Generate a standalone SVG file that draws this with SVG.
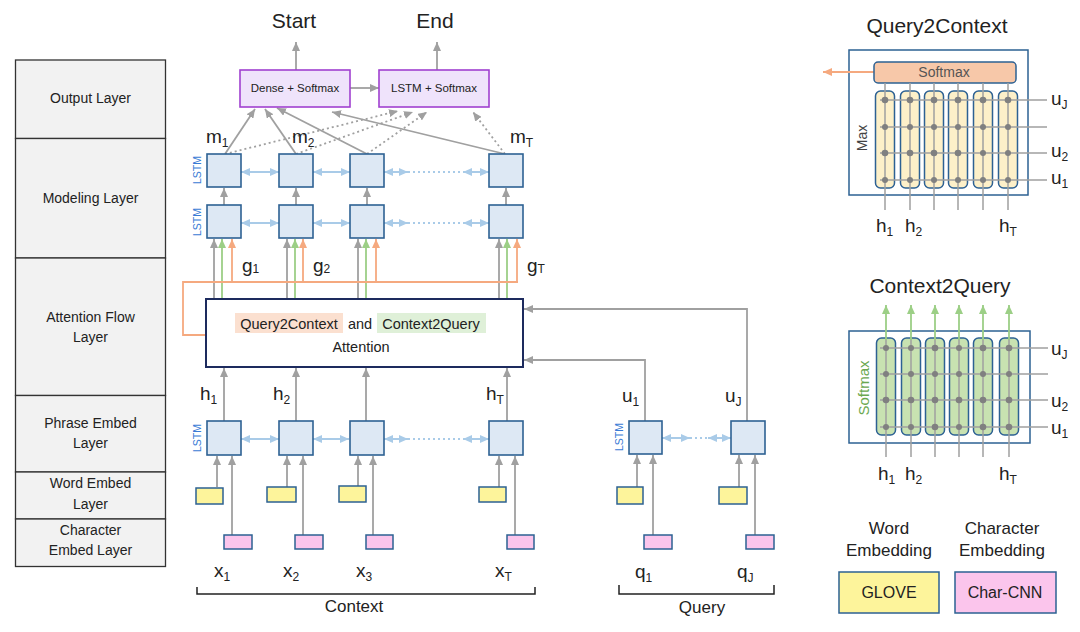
<svg xmlns="http://www.w3.org/2000/svg" width="1080" height="632" viewBox="0 0 1080 632">
<defs>
<style>
text{font-family:"Liberation Sans",Arial,sans-serif;fill:#222}
.layer{fill:#f2f2f2;stroke:#333;stroke-width:1.3}
.lt{font-size:14px;text-anchor:middle}
.lstm{fill:#dde8f4;stroke:#2d6193;stroke-width:1.6}
.vl{font-size:10.5px;fill:#3a7bd5;text-anchor:middle}
.g{stroke:#a0a0a0;stroke-width:1.8;fill:none}
.gd{stroke:#a0a0a0;stroke-width:1.8;fill:none;stroke-dasharray:2 3}
.gr{stroke:#9ccf86;stroke-width:1.8;fill:none}
.or{stroke:#f5a97f;stroke-width:1.8;fill:none}
.bl{stroke:#a9cbe8;stroke-width:2;fill:none}
.bld{stroke:#a9cbe8;stroke-width:2;fill:none;stroke-dasharray:2 3}
.yel{fill:#fdf49b;stroke:#2d6193;stroke-width:1.5}
.pnk{fill:#fbc5ec;stroke:#2d6193;stroke-width:1.5}
.out{fill:#efe3fb;stroke:#a040d0;stroke-width:1.6}
.var{font-size:19px}
.sub{font-size:12px}
.big{font-size:21px;text-anchor:middle}
.mid{font-size:17px;text-anchor:middle}
.grid{stroke:#a0a0a0;stroke-width:1.5;fill:none}
.dot{fill:#808080}
.panel{fill:#fff;stroke:#2d6193;stroke-width:1.5}
.ycol{fill:#fdf0c9;stroke:#2d6193;stroke-width:1.5}
.gcol{fill:#c8e2b1;stroke:#2d6193;stroke-width:1.5}
</style>
<marker id="ag" markerWidth="9" markerHeight="8" refX="9" refY="4" orient="auto" markerUnits="userSpaceOnUse"><path d="M0,0 L9,4 L0,8 z" fill="#a0a0a0"/></marker>
<marker id="agr" markerWidth="9" markerHeight="8" refX="9" refY="4" orient="auto" markerUnits="userSpaceOnUse"><path d="M0,0 L9,4 L0,8 z" fill="#9ccf86"/></marker>
<marker id="aor" markerWidth="9" markerHeight="8" refX="9" refY="4" orient="auto" markerUnits="userSpaceOnUse"><path d="M0,0 L9,4 L0,8 z" fill="#f5a97f"/></marker>
<marker id="abl" markerWidth="9" markerHeight="8" refX="9" refY="4" orient="auto-start-reverse" markerUnits="userSpaceOnUse"><path d="M0,0 L9,4 L0,8 z" fill="#a9cbe8"/></marker>
</defs>
<rect width="1080" height="632" fill="#fff"/>

<g id="layers">
<rect class="layer" x="15.5" y="60" width="150" height="78.5"/>
<rect class="layer" x="15.5" y="138.5" width="150" height="119.5"/>
<rect class="layer" x="15.5" y="258" width="150" height="137.5"/>
<rect class="layer" x="15.5" y="395.5" width="150" height="76.5"/>
<rect class="layer" x="15.5" y="472" width="150" height="47"/>
<rect class="layer" x="15.5" y="519" width="150" height="47.5"/>
<text class="lt" x="90.5" y="103">Output Layer</text>
<text class="lt" x="90.5" y="203">Modeling Layer</text>
<text class="lt" x="90.5" y="322">Attention Flow</text>
<text class="lt" x="90.5" y="342">Layer</text>
<text class="lt" x="90.5" y="428">Phrase Embed</text>
<text class="lt" x="90.5" y="448">Layer</text>
<text class="lt" x="90.5" y="488">Word Embed</text>
<text class="lt" x="90.5" y="509">Layer</text>
<text class="lt" x="90.5" y="535">Character</text>
<text class="lt" x="90.5" y="555">Embed Layer</text>
</g>

<g id="connectors">
<line class="g" x1="296" y1="70" x2="296" y2="42" marker-end="url(#ag)"/>
<line class="g" x1="437" y1="70" x2="437" y2="42" marker-end="url(#ag)"/>
<line class="g" x1="350" y1="88" x2="379" y2="88" marker-end="url(#ag)"/>
<line class="g" x1="225" y1="154" x2="255" y2="109" marker-end="url(#ag)"/>
<line class="g" x1="296" y1="154" x2="265" y2="109" marker-end="url(#ag)"/>
<line class="g" x1="367" y1="154" x2="277" y2="108" marker-end="url(#ag)"/>
<line class="g" x1="505" y1="154" x2="332" y2="112" marker-end="url(#ag)"/>
<line class="gd" x1="225" y1="154" x2="398" y2="111" marker-end="url(#ag)"/>
<line class="gd" x1="296" y1="154" x2="413" y2="112" marker-end="url(#ag)"/>
<line class="gd" x1="367" y1="154" x2="427" y2="112" marker-end="url(#ag)"/>
<line class="gd" x1="505" y1="154" x2="473" y2="112" marker-end="url(#ag)"/>

<line class="bl" x1="241" y1="172" x2="279" y2="172" marker-start="url(#abl)" marker-end="url(#abl)"/>
<line class="bl" x1="313" y1="172" x2="350" y2="172" marker-start="url(#abl)" marker-end="url(#abl)"/>
<line class="bl" x1="384" y1="172" x2="408" y2="172" marker-start="url(#abl)" marker-end="url(#abl)"/>
<line class="bld" x1="408" y1="172" x2="463" y2="172"/>
<line class="bl" x1="463" y1="172" x2="489" y2="172" marker-start="url(#abl)" marker-end="url(#abl)"/>

<line class="g" x1="224" y1="205" x2="224" y2="188" marker-end="url(#ag)"/>
<line class="g" x1="296" y1="205" x2="296" y2="188" marker-end="url(#ag)"/>
<line class="g" x1="367" y1="205" x2="367" y2="188" marker-end="url(#ag)"/>
<line class="g" x1="506" y1="205" x2="506" y2="188" marker-end="url(#ag)"/>

<line class="bl" x1="241" y1="223" x2="279" y2="223" marker-start="url(#abl)" marker-end="url(#abl)"/>
<line class="bl" x1="313" y1="223" x2="350" y2="223" marker-start="url(#abl)" marker-end="url(#abl)"/>
<line class="bl" x1="384" y1="223" x2="408" y2="223" marker-start="url(#abl)" marker-end="url(#abl)"/>
<line class="bld" x1="408" y1="223" x2="463" y2="223"/>
<line class="bl" x1="463" y1="223" x2="489" y2="223" marker-start="url(#abl)" marker-end="url(#abl)"/>

<line class="g" x1="214" y1="299" x2="214" y2="239" marker-end="url(#ag)"/>
<line class="g" x1="287" y1="299" x2="287" y2="239" marker-end="url(#ag)"/>
<line class="g" x1="358" y1="299" x2="358" y2="239" marker-end="url(#ag)"/>
<line class="g" x1="499" y1="299" x2="499" y2="239" marker-end="url(#ag)"/>
<line class="gr" x1="222" y1="299" x2="222" y2="239" marker-end="url(#agr)"/>
<line class="gr" x1="295" y1="299" x2="295" y2="239" marker-end="url(#agr)"/>
<line class="gr" x1="366" y1="299" x2="366" y2="239" marker-end="url(#agr)"/>
<line class="gr" x1="507" y1="299" x2="507" y2="239" marker-end="url(#agr)"/>
<path class="or" d="M206,335 H183 V282 H518"/>
<line class="or" x1="232" y1="282" x2="232" y2="239" marker-end="url(#aor)"/>
<line class="or" x1="303" y1="282" x2="303" y2="239" marker-end="url(#aor)"/>
<line class="or" x1="376" y1="282" x2="376" y2="239" marker-end="url(#aor)"/>
<line class="or" x1="517" y1="282" x2="517" y2="239" marker-end="url(#aor)"/>

<path class="g" d="M747,421 V309 H524" marker-end="url(#ag)"/>
<path class="g" d="M645,421 V360 H524" marker-end="url(#ag)"/>

<line class="g" x1="224" y1="421" x2="224" y2="368" marker-end="url(#ag)"/>
<line class="g" x1="296" y1="421" x2="296" y2="368" marker-end="url(#ag)"/>
<line class="g" x1="366" y1="421" x2="366" y2="368" marker-end="url(#ag)"/>
<line class="g" x1="507" y1="421" x2="507" y2="368" marker-end="url(#ag)"/>

<line class="bl" x1="241" y1="439" x2="279" y2="439" marker-start="url(#abl)" marker-end="url(#abl)"/>
<line class="bl" x1="313" y1="439" x2="349" y2="439" marker-start="url(#abl)" marker-end="url(#abl)"/>
<line class="bl" x1="384" y1="439" x2="408" y2="439" marker-start="url(#abl)" marker-end="url(#abl)"/>
<line class="bld" x1="408" y1="439" x2="463" y2="439"/>
<line class="bl" x1="463" y1="439" x2="489" y2="439" marker-start="url(#abl)" marker-end="url(#abl)"/>

<line class="g" x1="217" y1="487" x2="217" y2="456" marker-end="url(#ag)"/>
<line class="g" x1="287" y1="487" x2="287" y2="456" marker-end="url(#ag)"/>
<line class="g" x1="358" y1="486" x2="358" y2="456" marker-end="url(#ag)"/>
<line class="g" x1="499" y1="487" x2="499" y2="456" marker-end="url(#ag)"/>
<line class="g" x1="232" y1="535" x2="232" y2="456" marker-end="url(#ag)"/>
<line class="g" x1="303" y1="535" x2="303" y2="456" marker-end="url(#ag)"/>
<line class="g" x1="373" y1="535" x2="373" y2="456" marker-end="url(#ag)"/>
<line class="g" x1="515" y1="535" x2="515" y2="456" marker-end="url(#ag)"/>

<line class="bl" x1="662" y1="438" x2="690" y2="438" marker-start="url(#abl)" marker-end="url(#abl)"/>
<line class="bld" x1="690" y1="438" x2="708" y2="438"/>
<line class="bl" x1="708" y1="438" x2="731" y2="438" marker-start="url(#abl)" marker-end="url(#abl)"/>
<line class="g" x1="637" y1="487" x2="637" y2="455" marker-end="url(#ag)"/>
<line class="g" x1="739" y1="487" x2="739" y2="455" marker-end="url(#ag)"/>
<line class="g" x1="653" y1="535" x2="653" y2="455" marker-end="url(#ag)"/>
<line class="g" x1="755" y1="535" x2="755" y2="455" marker-end="url(#ag)"/>
</g>

<g id="output">
<text class="big" x="294" y="28">Start</text>
<text class="big" x="435" y="28">End</text>
<g id="dense"><rect class="out" x="240" y="70" width="110" height="37"/><text x="295" y="92" font-size="11.5" text-anchor="middle">Dense + Softmax</text></g>
<g id="lstm-softmax"><rect class="out" x="379" y="70" width="110" height="37"/><text x="434" y="92" font-size="11.5" text-anchor="middle">LSTM + Softmax</text></g>
</g>

<g id="modeling">
<text class="var" x="206" y="143">m<tspan class="sub" dy="4">1</tspan></text>
<text class="var" x="292" y="143">m<tspan class="sub" dy="4">2</tspan></text>
<text class="var" x="510" y="143">m<tspan class="sub" dy="4">T</tspan></text>
<text class="vl" transform="translate(201,170) rotate(-90)">LSTM</text>
<rect class="lstm" x="207" y="154" width="34" height="33"/>
<rect class="lstm" x="279" y="154" width="34" height="33"/>
<rect class="lstm" x="350" y="154" width="34" height="33"/>
<rect class="lstm" x="489" y="154" width="34" height="33"/>
<text class="vl" transform="translate(201,222) rotate(-90)">LSTM</text>
<rect class="lstm" x="207" y="205" width="34" height="33"/>
<rect class="lstm" x="279" y="205" width="34" height="33"/>
<rect class="lstm" x="350" y="205" width="34" height="33"/>
<rect class="lstm" x="489" y="205" width="34" height="33"/>
<text class="var" x="242" y="272">g<tspan class="sub" dy="1">1</tspan></text>
<text class="var" x="313" y="272">g<tspan class="sub" dy="1">2</tspan></text>
<text class="var" x="527" y="272">g<tspan class="sub" dy="1">T</tspan></text>
</g>

<g id="attention">
<rect x="206" y="299" width="317" height="68" fill="#fff" stroke="#1d2b5e" stroke-width="2"/>
<rect x="235" y="313" width="108" height="20" fill="#fbe0d0"/>
<rect x="377" y="313" width="109" height="20" fill="#dff0d8"/>
<text x="289" y="329" font-size="14.5" text-anchor="middle">Query2Context</text>
<text x="360" y="329" font-size="14.5" text-anchor="middle">and</text>
<text x="431" y="329" font-size="14.5" text-anchor="middle">Context2Query</text>
<text x="361" y="352" font-size="14.5" text-anchor="middle">Attention</text>
</g>

<g id="phrase">
<text class="var" x="200" y="400">h<tspan class="sub" dy="4">1</tspan></text>
<text class="var" x="273" y="400">h<tspan class="sub" dy="4">2</tspan></text>
<text class="var" x="486" y="400">h<tspan class="sub" dy="4">T</tspan></text>
<text class="vl" transform="translate(201,438) rotate(-90)">LSTM</text>
<rect class="lstm" x="207" y="421" width="34" height="34"/>
<rect class="lstm" x="279" y="421" width="34" height="34"/>
<rect class="lstm" x="350" y="421" width="34" height="34"/>
<rect class="lstm" x="489" y="421" width="34" height="34"/>
<text class="var" x="622" y="402">u<tspan class="sub" dy="4">1</tspan></text>
<text class="var" x="725" y="402">u<tspan class="sub" dy="4">J</tspan></text>
<text class="vl" transform="translate(623,437) rotate(-90)">LSTM</text>
<rect class="lstm" x="629" y="421" width="33" height="33"/>
<rect class="lstm" x="731" y="421" width="34" height="33"/>
</g>

<g id="word-embed">
<rect class="yel" x="196" y="488" width="27" height="16"/>
<rect class="yel" x="267" y="487" width="29" height="15"/>
<rect class="yel" x="339" y="486" width="27" height="16"/>
<rect class="yel" x="479" y="487" width="27" height="15"/>
<rect class="yel" x="617" y="487" width="26" height="17"/>
<rect class="yel" x="719" y="487" width="28" height="17"/>
</g>

<g id="char-embed">
<rect class="pnk" x="224" y="535" width="28" height="14"/>
<rect class="pnk" x="295" y="535" width="28" height="14"/>
<rect class="pnk" x="366" y="535" width="27" height="14"/>
<rect class="pnk" x="507" y="535" width="27" height="14"/>
<rect class="pnk" x="644" y="535" width="28" height="14"/>
<rect class="pnk" x="746" y="535" width="28" height="14"/>
</g>

<g id="inputs">
<text class="var" x="214" y="577">x<tspan class="sub" dy="4">1</tspan></text>
<text class="var" x="283" y="577">x<tspan class="sub" dy="4">2</tspan></text>
<text class="var" x="356" y="577">x<tspan class="sub" dy="4">3</tspan></text>
<text class="var" x="495" y="577">x<tspan class="sub" dy="4">T</tspan></text>
<path d="M197,587 V594 H535 V587" fill="none" stroke="#222" stroke-width="1.5"/>
<text class="mid" x="354" y="612">Context</text>
<text class="var" x="635" y="578">q<tspan class="sub" dy="4">1</tspan></text>
<text class="var" x="737" y="578">q<tspan class="sub" dy="4">J</tspan></text>
<path d="M619,585 V594 H774 V585" fill="none" stroke="#222" stroke-width="1.5"/>
<text class="mid" x="702" y="613">Query</text>
</g>

<g id="query2context">
<text class="big" x="937" y="33">Query2Context</text>
<rect class="panel" x="849" y="50" width="179" height="145"/>
<line x1="874" y1="72" x2="823" y2="72" stroke="#f5a97f" stroke-width="1.8" marker-end="url(#aor)"/>
<rect x="874" y="62" width="142" height="21" rx="4" fill="#f7c8a9" stroke="#2d6193" stroke-width="1.5"/>
<text x="944" y="77" font-size="14" text-anchor="middle" style="fill:#555">Softmax</text>
<text transform="translate(867,138) rotate(-90)" font-size="14" text-anchor="middle" style="fill:#444">Max</text>
<rect class="ycol" x="875.5" y="91" width="19" height="97" rx="5"/>
<rect class="ycol" x="900.5" y="91" width="19" height="97" rx="5"/>
<rect class="ycol" x="924.5" y="91" width="19" height="97" rx="5"/>
<rect class="ycol" x="948.5" y="91" width="19" height="97" rx="5"/>
<rect class="ycol" x="973.5" y="91" width="19" height="97" rx="5"/>
<rect class="ycol" x="998.5" y="91" width="19" height="97" rx="5"/>
<path class="grid" d="M885,83 V210 M910,83 V210 M934,83 V210 M958,83 V210 M983,83 V210 M1008,83 V210 M880,100 H1047 M880,127 H1047 M880,153 H1047 M880,180 H1047"/>
<g class="dot">
<circle cx="885" cy="100" r="3.3"/><circle cx="910" cy="100" r="3.3"/><circle cx="934" cy="100" r="3.3"/><circle cx="958" cy="100" r="3.3"/><circle cx="983" cy="100" r="3.3"/><circle cx="1008" cy="100" r="3.3"/>
<circle cx="885" cy="127" r="3"/><circle cx="910" cy="127" r="3"/><circle cx="934" cy="127" r="3"/><circle cx="958" cy="127" r="3"/><circle cx="983" cy="127" r="3"/><circle cx="1008" cy="127" r="3"/>
<circle cx="885" cy="153" r="3.3"/><circle cx="910" cy="153" r="3.3"/><circle cx="934" cy="153" r="3.3"/><circle cx="958" cy="153" r="3.3"/><circle cx="983" cy="153" r="3"/><circle cx="1008" cy="153" r="3"/>
<circle cx="885" cy="180" r="3"/><circle cx="910" cy="180" r="3"/><circle cx="934" cy="180" r="3"/><circle cx="958" cy="180" r="3"/><circle cx="983" cy="180" r="3"/><circle cx="1008" cy="180" r="3"/>
</g>
<text class="var" x="1051" y="105">u<tspan class="sub" dy="4">J</tspan></text>
<text class="var" x="1051" y="157">u<tspan class="sub" dy="4">2</tspan></text>
<text class="var" x="1051" y="184">u<tspan class="sub" dy="4">1</tspan></text>
<text class="var" x="876" y="232">h<tspan class="sub" dy="4">1</tspan></text>
<text class="var" x="905" y="232">h<tspan class="sub" dy="4">2</tspan></text>
<text class="var" x="999" y="232">h<tspan class="sub" dy="4">T</tspan></text>
</g>

<g id="context2query">
<text class="big" x="940" y="293">Context2Query</text>
<rect class="panel" x="849" y="331" width="181" height="112"/>
<rect class="gcol" x="876.5" y="338" width="19" height="97" rx="5"/>
<rect class="gcol" x="901.5" y="338" width="19" height="97" rx="5"/>
<rect class="gcol" x="925.5" y="338" width="19" height="97" rx="5"/>
<rect class="gcol" x="949.5" y="338" width="19" height="97" rx="5"/>
<rect class="gcol" x="973.5" y="338" width="19" height="97" rx="5"/>
<rect class="gcol" x="999.5" y="338" width="19" height="97" rx="5"/>
<path class="grid" d="M886,338 V457 M911,338 V457 M935,338 V457 M959,338 V457 M983,338 V457 M1009,338 V457 M880,348 H1048 M880,374 H1048 M880,400 H1048 M880,427 H1048"/>
<line class="gr" x1="886" y1="340" x2="886" y2="305" marker-end="url(#agr)"/>
<line class="gr" x1="911" y1="340" x2="911" y2="305" marker-end="url(#agr)"/>
<line class="gr" x1="935" y1="340" x2="935" y2="305" marker-end="url(#agr)"/>
<line class="gr" x1="959" y1="340" x2="959" y2="305" marker-end="url(#agr)"/>
<line class="gr" x1="983" y1="340" x2="983" y2="305" marker-end="url(#agr)"/>
<line class="gr" x1="1009" y1="340" x2="1009" y2="305" marker-end="url(#agr)"/>
<g class="dot">
<circle cx="886" cy="348" r="3"/><circle cx="911" cy="348" r="3"/><circle cx="935" cy="348" r="3.3"/><circle cx="959" cy="348" r="3"/><circle cx="983" cy="348" r="3.3"/><circle cx="1009" cy="348" r="3.3"/>
<circle cx="886" cy="374" r="3"/><circle cx="911" cy="374" r="3"/><circle cx="935" cy="374" r="3"/><circle cx="959" cy="374" r="3"/><circle cx="983" cy="374" r="3"/><circle cx="1009" cy="374" r="3"/>
<circle cx="886" cy="400" r="3.3"/><circle cx="911" cy="400" r="3.3"/><circle cx="935" cy="400" r="3.3"/><circle cx="959" cy="400" r="3.3"/><circle cx="983" cy="400" r="3.3"/><circle cx="1009" cy="400" r="3.3"/>
<circle cx="886" cy="427" r="3"/><circle cx="911" cy="427" r="3"/><circle cx="935" cy="427" r="3.3"/><circle cx="959" cy="427" r="3"/><circle cx="983" cy="427" r="3.3"/><circle cx="1009" cy="427" r="3.3"/>
</g>
<text transform="translate(869,388) rotate(-90)" font-size="15" text-anchor="middle" style="fill:#6aa84f">Softmax</text>
<text class="var" x="1051" y="355">u<tspan class="sub" dy="4">J</tspan></text>
<text class="var" x="1051" y="407">u<tspan class="sub" dy="4">2</tspan></text>
<text class="var" x="1051" y="434">u<tspan class="sub" dy="4">1</tspan></text>
<text class="var" x="878" y="480">h<tspan class="sub" dy="4">1</tspan></text>
<text class="var" x="905" y="480">h<tspan class="sub" dy="4">2</tspan></text>
<text class="var" x="999" y="480">h<tspan class="sub" dy="4">T</tspan></text>
</g>

<g id="legend">
<text class="mid" x="889" y="534">Word</text>
<text class="mid" x="889" y="556">Embedding</text>
<text class="mid" x="1002" y="534">Character</text>
<text class="mid" x="1002" y="556">Embedding</text>
<g id="glove"><rect class="yel" x="839" y="572" width="100" height="41"/><text x="889" y="598" font-size="16" text-anchor="middle">GLOVE</text></g>
<g id="charcnn"><rect class="pnk" x="955" y="572" width="101" height="41"/><text x="1005" y="598" font-size="16" text-anchor="middle">Char-CNN</text></g>
</g>
</svg>
